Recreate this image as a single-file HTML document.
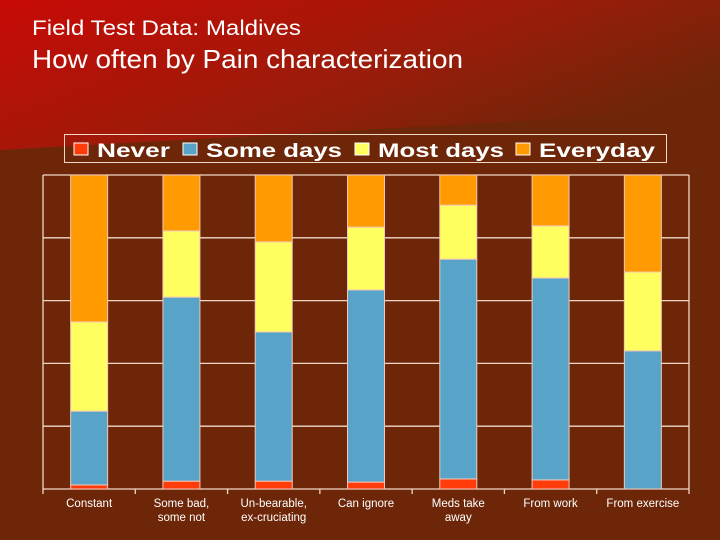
<!DOCTYPE html>
<html><head><meta charset="utf-8">
<style>
html,body{margin:0;padding:0;width:720px;height:540px;overflow:hidden;background:#6e2608;}
svg{display:block;font-family:"Liberation Sans",sans-serif;}
</style></head>
<body>
<svg id="chart" width="720" height="540" viewBox="0 0 720 540">
<defs>
<linearGradient id="bg" x1="0" y1="0" x2="1" y2="0.55">
<stop offset="0" stop-color="#c80a06"/><stop offset="0.6" stop-color="#9a1c0a"/><stop offset="1" stop-color="#6e2608"/>
</linearGradient>
</defs>
<rect x="0" y="0" width="720" height="540" fill="#6e2608"/>
<polygon points="0,0 720,0 720,110 0,150" fill="url(#bg)"/>
<text x="32" y="35" fill="#fff" font-size="21" textLength="269" lengthAdjust="spacingAndGlyphs">Field Test Data: Maldives</text>
<text x="32" y="68" fill="#fff" font-size="26" textLength="431" lengthAdjust="spacingAndGlyphs">How often by Pain characterization</text>
<g>
<rect x="64.5" y="134.5" width="602" height="28" fill="none" stroke="#f0d8c8" stroke-width="1"/>
<g id="legend-items"></g>
</g>
<g id="grid"></g>
<g id="bars"></g>
<g id="xlabels"></g>
</svg>
<script>
const categories = [["Constant"],["Some bad,","some not"],["Un-bearable,","ex-cruciating"],["Can ignore"],["Meds take","away"],["From work"],["From exercise"]];
const seriesNames = ["Never","Some days","Most days","Everyday"];
const never = [1.3,2.5,2.5,2.2,3.2,2.9,0];
const someDays = [23.5,58.6,47.5,61.2,70,64.3,44];
const mostDays = [28.4,21.1,28.7,20,17.2,16.6,25.1];
const everyday = [46.8,17.8,21.3,16.6,9.6,16.2,30.9];
const yTicks = [0,20,40,60,80,100];

const NS="http://www.w3.org/2000/svg";
const colors=["#ff3c0a","#58a4c8","#ffff60","#ff9a00"];
const L=43,R=689,T=175,B=489;
const y=v=>B-(v/100)*(B-T);
const band=(R-L)/categories.length;
const xc=i=>L+band*(i+0.5);
function mk(tag,attrs,parent){const e=document.createElementNS(NS,tag);for(const k in attrs)e.setAttribute(k,attrs[k]);parent.appendChild(e);return e;}
const grid=document.getElementById('grid');
yTicks.forEach(t=>{
  const l=mk('line',{x1:L,x2:R,y1:y(t),y2:y(t),stroke:'#f0d8c8','stroke-width':1.3},grid);
  
  
});
const ax=mk('line',{x1:L,x2:L,y1:T,y2:B,stroke:'#f0d8c8','stroke-width':1.3},grid);


const ax2=mk('line',{x1:R,x2:R,y1:T,y2:B,stroke:'#f0d8c8','stroke-width':1.3},grid);


for(let i=0;i<=categories.length;i++){
  const tk=mk('line',{x1:L+band*i,x2:L+band*i,y1:B,y2:B+5,stroke:'#f0d8c8','stroke-width':1.3},grid);
  
  
}
const bars=document.getElementById('bars');
const series=[never,someDays,mostDays,everyday];
const bw=37;
categories.forEach((c,i)=>{
  let cum=0;
  series.forEach((s,si)=>{
    const v=s[i]; if(v<=0){return;}
    const r=mk('rect',{x:xc(i)-bw/2,y:y(cum+v),width:bw,height:y(cum)-y(cum+v),fill:colors[si],stroke:'#f0c8b8','stroke-width':1},bars);
    
    
    cum+=v;
  });
  const t=mk('text',{x:xc(i),y:507,fill:'#fff','font-size':11.5,'text-anchor':'middle'},document.getElementById('xlabels'));
  
  
  c.forEach((line,li)=>{const ts=mk('tspan',{x:xc(i),dy:li?14:0},t);ts.textContent=line;});
});
const li=document.getElementById('legend-items');
const lx=[74,183,355,516];
const lw=[73,136,126,116];
seriesNames.forEach((n,k)=>{
  const r=mk('rect',{x:lx[k],y:143,width:14,height:12,fill:colors[k],stroke:'#fff','stroke-width':1},li);
  
  
  const t=mk('text',{x:lx[k]+23,y:157,fill:'#fff','font-size':19,'font-weight':'bold',textLength:lw[k],lengthAdjust:'spacingAndGlyphs'},li);
  
  
  t.textContent=n;
});
</script>
</body></html>
